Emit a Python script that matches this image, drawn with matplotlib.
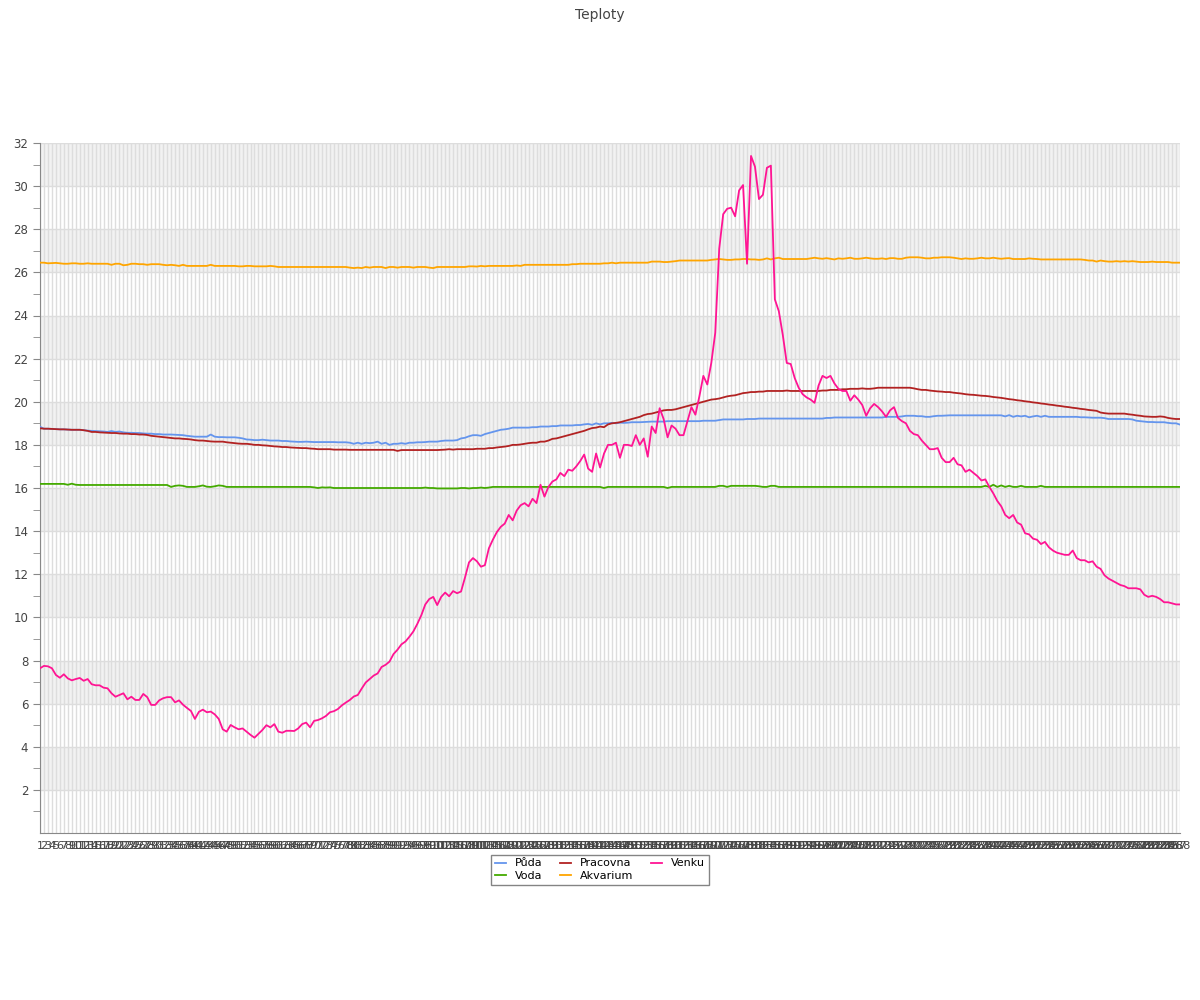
import numpy as np
import matplotlib.pyplot as plt

# Teploty - mereni po 5 minutach (288 bodu)
labels = [str(i) for i in range(1, 289)]

puda = [
    18.84, 18.75, 18.75, 18.74, 18.73, 18.72, 18.72, 18.71, 18.7, 18.7, 18.7, 18.68,
    18.66, 18.65, 18.64, 18.63, 18.62, 18.6, 18.64, 18.6, 18.62, 18.58, 18.56, 18.56,
    18.55, 18.55, 18.53, 18.52, 18.52, 18.5, 18.5, 18.48, 18.48, 18.48, 18.47, 18.46,
    18.45, 18.42, 18.4, 18.38, 18.38, 18.38, 18.38, 18.48, 18.38, 18.36, 18.36, 18.35,
    18.35, 18.35, 18.33, 18.3, 18.25, 18.24, 18.22, 18.22, 18.24, 18.22, 18.2, 18.2,
    18.2, 18.18, 18.18, 18.16, 18.15, 18.14, 18.14, 18.15, 18.14, 18.13, 18.13, 18.13,
    18.13, 18.13, 18.13, 18.12, 18.12, 18.12, 18.1, 18.05, 18.1, 18.05, 18.1, 18.08,
    18.1, 18.15, 18.05, 18.1, 18.0, 18.05, 18.05, 18.08, 18.05, 18.1, 18.1, 18.12,
    18.12, 18.13, 18.15, 18.15, 18.15, 18.18, 18.2, 18.2, 18.2, 18.22, 18.3, 18.33,
    18.4, 18.45, 18.45, 18.42, 18.5, 18.55, 18.6, 18.65, 18.7, 18.72, 18.75, 18.8,
    18.8, 18.8, 18.8, 18.8, 18.82, 18.82, 18.85, 18.85, 18.85, 18.87, 18.87, 18.9,
    18.9, 18.9, 18.9, 18.92, 18.92, 18.95, 18.97, 18.93, 19.0, 18.95, 19.0, 19.0,
    19.02, 19.0, 19.03, 19.02, 19.03, 19.05, 19.05, 19.05, 19.06, 19.07, 19.08, 19.08,
    19.08, 19.08, 19.1, 19.1, 19.1, 19.1, 19.1, 19.1, 19.1, 19.1, 19.1, 19.12,
    19.12, 19.12, 19.12, 19.15, 19.18, 19.18, 19.18, 19.18, 19.18, 19.18, 19.2, 19.2,
    19.2, 19.22, 19.22, 19.22, 19.22, 19.22, 19.22, 19.22, 19.22, 19.22, 19.22, 19.22,
    19.22, 19.22, 19.22, 19.22, 19.22, 19.22, 19.25, 19.25, 19.27, 19.27, 19.27, 19.27,
    19.27, 19.27, 19.27, 19.27, 19.27, 19.27, 19.27, 19.27, 19.27, 19.3, 19.3, 19.3,
    19.3, 19.32, 19.35, 19.35, 19.35, 19.33, 19.33, 19.3, 19.3, 19.33, 19.35, 19.35,
    19.36, 19.37, 19.37, 19.37, 19.37, 19.37, 19.37, 19.37, 19.37, 19.37, 19.37, 19.37,
    19.37, 19.37, 19.37, 19.32, 19.38, 19.3, 19.35, 19.32, 19.35, 19.28, 19.32, 19.35,
    19.3, 19.35, 19.3, 19.3, 19.3, 19.3, 19.3, 19.3, 19.3, 19.3, 19.28, 19.28,
    19.27, 19.26, 19.26, 19.26, 19.24, 19.2, 19.2, 19.2, 19.2, 19.2, 19.2, 19.18,
    19.12, 19.1, 19.08, 19.06, 19.06, 19.05, 19.05, 19.05, 19.02, 19.0, 19.0, 18.94,
]

voda = [
    16.19, 16.19, 16.19, 16.19, 16.19, 16.19, 16.19, 16.15, 16.2, 16.15, 16.14, 16.14,
    16.14, 16.14, 16.14, 16.14, 16.14, 16.14, 16.14, 16.14, 16.14, 16.14, 16.14, 16.14,
    16.14, 16.14, 16.14, 16.14, 16.14, 16.14, 16.14, 16.14, 16.14, 16.05, 16.1, 16.12,
    16.1, 16.05, 16.05, 16.05, 16.08, 16.12, 16.06, 16.05, 16.08, 16.12, 16.1, 16.05,
    16.05, 16.05, 16.05, 16.05, 16.05, 16.05, 16.05, 16.05, 16.05, 16.05, 16.05, 16.05,
    16.05, 16.05, 16.05, 16.05, 16.05, 16.05, 16.05, 16.05, 16.05, 16.03, 16.0, 16.03,
    16.02, 16.03, 16.0, 16.0, 16.0, 16.0, 16.0, 16.0, 16.0, 16.0, 16.0, 16.0,
    16.0, 16.0, 16.0, 16.0, 16.0, 16.0, 16.0, 16.0, 16.0, 16.0, 16.0, 16.0,
    16.0, 16.02, 16.0, 16.0, 15.98, 15.98, 15.98, 15.98, 15.98, 15.98, 16.0, 16.0,
    15.98, 16.0, 16.0, 16.02, 16.0, 16.02, 16.05, 16.05, 16.05, 16.05, 16.05, 16.05,
    16.05, 16.05, 16.05, 16.05, 16.05, 16.05, 16.05, 16.05, 16.05, 16.05, 16.05, 16.05,
    16.05, 16.05, 16.05, 16.05, 16.05, 16.05, 16.05, 16.05, 16.05, 16.05, 16.0, 16.05,
    16.05, 16.05, 16.05, 16.05, 16.05, 16.05, 16.05, 16.05, 16.05, 16.05, 16.05, 16.05,
    16.05, 16.05, 16.0, 16.05, 16.05, 16.05, 16.05, 16.05, 16.05, 16.05, 16.05, 16.05,
    16.05, 16.05, 16.05, 16.1, 16.1, 16.05, 16.1, 16.1, 16.1, 16.1, 16.1, 16.1,
    16.1, 16.08, 16.05, 16.05, 16.1, 16.1, 16.05, 16.05, 16.05, 16.05, 16.05, 16.05,
    16.05, 16.05, 16.05, 16.05, 16.05, 16.05, 16.05, 16.05, 16.05, 16.05, 16.05, 16.05,
    16.05, 16.05, 16.05, 16.05, 16.05, 16.05, 16.05, 16.05, 16.05, 16.05, 16.05, 16.05,
    16.05, 16.05, 16.05, 16.05, 16.05, 16.05, 16.05, 16.05, 16.05, 16.05, 16.05, 16.05,
    16.05, 16.05, 16.05, 16.05, 16.05, 16.05, 16.05, 16.05, 16.05, 16.05, 16.1, 16.05,
    16.15, 16.05, 16.12, 16.05, 16.1, 16.05, 16.05, 16.1, 16.05, 16.05, 16.05, 16.05,
    16.1, 16.05, 16.05, 16.05, 16.05, 16.05, 16.05, 16.05, 16.05, 16.05, 16.05, 16.05,
    16.05, 16.05, 16.05, 16.05, 16.05, 16.05, 16.05, 16.05, 16.05, 16.05, 16.05, 16.05,
    16.05, 16.05, 16.05, 16.05, 16.05, 16.05, 16.05, 16.05, 16.05, 16.05, 16.05, 16.05,
]

pracovna = [
    18.77, 18.75, 18.75, 18.74, 18.73, 18.72, 18.72, 18.71, 18.7, 18.7, 18.7, 18.68,
    18.65, 18.6, 18.6, 18.58, 18.57, 18.56, 18.55, 18.55, 18.53, 18.52, 18.52, 18.5,
    18.5, 18.48, 18.48, 18.46, 18.42, 18.4, 18.38, 18.36, 18.34, 18.32, 18.3, 18.3,
    18.28, 18.27, 18.25, 18.22, 18.2, 18.2, 18.18, 18.16, 18.15, 18.15, 18.15, 18.12,
    18.1, 18.08, 18.06, 18.05, 18.05, 18.03, 18.0, 18.0, 17.98, 17.97, 17.95, 17.93,
    17.92, 17.9, 17.9, 17.88, 17.87, 17.86, 17.85, 17.85, 17.83, 17.82, 17.8, 17.8,
    17.8, 17.8, 17.78, 17.78, 17.78, 17.78, 17.77, 17.77, 17.77, 17.77, 17.77, 17.77,
    17.77, 17.77, 17.77, 17.77, 17.77, 17.77, 17.72, 17.76, 17.76, 17.76, 17.76, 17.76,
    17.76, 17.76, 17.76, 17.76, 17.76, 17.77, 17.78, 17.8, 17.78, 17.8, 17.8, 17.8,
    17.8, 17.8, 17.82, 17.82, 17.82, 17.85, 17.85, 17.88, 17.9, 17.92, 17.95, 18.0,
    18.0, 18.02, 18.05, 18.08, 18.1, 18.1, 18.15, 18.15, 18.2, 18.28, 18.3, 18.35,
    18.4, 18.45, 18.5, 18.55, 18.6, 18.65, 18.72, 18.78, 18.8, 18.85, 18.82, 18.95,
    19.0, 19.02, 19.05, 19.1, 19.15, 19.2, 19.25, 19.3, 19.38, 19.43, 19.45, 19.5,
    19.55, 19.6, 19.62, 19.62, 19.65, 19.7, 19.75, 19.8, 19.85, 19.9, 19.95, 20.0,
    20.05, 20.1, 20.12, 20.15, 20.2, 20.25, 20.28, 20.3, 20.35, 20.4, 20.42, 20.45,
    20.45, 20.47, 20.47, 20.5, 20.5, 20.5, 20.5, 20.5, 20.52, 20.5, 20.5, 20.5,
    20.5, 20.5, 20.5, 20.5, 20.5, 20.52, 20.52, 20.55, 20.55, 20.55, 20.58, 20.58,
    20.6, 20.6, 20.6, 20.62, 20.6, 20.6, 20.62, 20.65, 20.65, 20.65, 20.65, 20.65,
    20.65, 20.65, 20.65, 20.65, 20.62, 20.58, 20.55, 20.55, 20.52, 20.5, 20.48, 20.47,
    20.45, 20.45, 20.42, 20.4, 20.38, 20.35, 20.33, 20.32, 20.3, 20.28, 20.27, 20.25,
    20.22, 20.2, 20.18, 20.15, 20.12, 20.1, 20.07, 20.05, 20.02, 20.0, 19.97, 19.95,
    19.92, 19.9, 19.87, 19.85, 19.82, 19.8, 19.77, 19.75, 19.72, 19.7, 19.67, 19.65,
    19.62, 19.6, 19.58, 19.5, 19.47, 19.45, 19.45, 19.45, 19.45, 19.45, 19.42, 19.4,
    19.37, 19.35, 19.32, 19.31, 19.3, 19.3, 19.32, 19.3, 19.25, 19.22, 19.2, 19.2,
]

akvarium = [
    26.45, 26.45, 26.42, 26.43, 26.44, 26.42, 26.4, 26.4, 26.42, 26.42, 26.4, 26.4,
    26.42, 26.4, 26.4, 26.4, 26.4, 26.4, 26.35, 26.4, 26.4, 26.33, 26.35, 26.4,
    26.4, 26.38, 26.38, 26.35, 26.38, 26.38, 26.38, 26.35, 26.33, 26.35, 26.33, 26.3,
    26.35, 26.3, 26.3, 26.3, 26.3, 26.3, 26.3, 26.35, 26.3, 26.3, 26.3, 26.3,
    26.3, 26.3, 26.28, 26.28, 26.3, 26.3, 26.28, 26.28, 26.28, 26.28, 26.3, 26.28,
    26.25, 26.25, 26.25, 26.25, 26.25, 26.25, 26.25, 26.25, 26.25, 26.25, 26.25, 26.25,
    26.25, 26.25, 26.25, 26.25, 26.25, 26.25, 26.22, 26.2, 26.22, 26.2, 26.25, 26.22,
    26.25, 26.25, 26.25, 26.2, 26.25, 26.25, 26.22, 26.25, 26.25, 26.25, 26.22, 26.25,
    26.25, 26.25, 26.22, 26.2, 26.25, 26.25, 26.25, 26.25, 26.25, 26.25, 26.25, 26.25,
    26.28, 26.28, 26.27, 26.3, 26.28, 26.3, 26.3, 26.3, 26.3, 26.3, 26.3, 26.3,
    26.32, 26.3, 26.35, 26.35, 26.35, 26.35, 26.35, 26.35, 26.35, 26.35, 26.35, 26.35,
    26.35, 26.35, 26.38, 26.38, 26.4, 26.4, 26.4, 26.4, 26.4, 26.4, 26.42, 26.42,
    26.45, 26.42, 26.45, 26.45, 26.45, 26.45, 26.45, 26.45, 26.45, 26.45, 26.5, 26.5,
    26.5, 26.48, 26.48, 26.5, 26.52, 26.55, 26.55, 26.55, 26.55, 26.55, 26.55, 26.55,
    26.55, 26.58, 26.6, 26.62, 26.6, 26.58, 26.58, 26.6, 26.6, 26.62, 26.62, 26.6,
    26.6, 26.58, 26.6, 26.65, 26.6, 26.65, 26.68, 26.62, 26.62, 26.62, 26.62, 26.62,
    26.62, 26.62, 26.65, 26.68, 26.65, 26.63, 26.66, 26.63, 26.6, 26.65, 26.63, 26.65,
    26.68, 26.63, 26.63, 26.65, 26.68, 26.65, 26.63, 26.63, 26.65, 26.62, 26.66, 26.66,
    26.63, 26.63, 26.68, 26.7, 26.7, 26.7, 26.68, 26.65, 26.65, 26.68, 26.68, 26.7,
    26.7, 26.7, 26.68, 26.65, 26.62, 26.65, 26.63, 26.63, 26.65, 26.68, 26.65, 26.65,
    26.68, 26.65, 26.63, 26.65, 26.66, 26.62, 26.62, 26.62, 26.62, 26.65, 26.63, 26.62,
    26.6, 26.6, 26.6, 26.6, 26.6, 26.6, 26.6, 26.6, 26.6, 26.6, 26.6, 26.58,
    26.55, 26.55, 26.5, 26.55, 26.52, 26.5, 26.5, 26.52, 26.5, 26.52, 26.5, 26.52,
    26.5, 26.48, 26.48, 26.48, 26.5, 26.48, 26.48, 26.48, 26.48, 26.45, 26.45, 26.45,
]

venku = [
    7.64, 7.75, 7.73, 7.64, 7.33, 7.2, 7.36, 7.17, 7.08, 7.14, 7.19, 7.06,
    7.14, 6.9, 6.85, 6.85, 6.74, 6.71, 6.48, 6.32, 6.4, 6.48, 6.2, 6.32,
    6.17, 6.17, 6.45, 6.3, 5.94, 5.94, 6.15, 6.25, 6.3, 6.3, 6.06, 6.15,
    5.95, 5.8, 5.66, 5.29, 5.62, 5.72, 5.6, 5.63, 5.5, 5.29, 4.81, 4.7,
    5.01, 4.9, 4.81, 4.85, 4.7, 4.55, 4.42, 4.6, 4.78, 5.0, 4.9, 5.05,
    4.7, 4.65, 4.74, 4.74, 4.73, 4.85, 5.05, 5.12, 4.9, 5.2, 5.24, 5.32,
    5.43, 5.6, 5.65, 5.75, 5.92, 6.05, 6.17, 6.33, 6.4, 6.7, 6.98, 7.14,
    7.3, 7.4, 7.7, 7.8, 7.95, 8.3, 8.5, 8.75, 8.88, 9.1, 9.35, 9.7,
    10.1, 10.6, 10.85, 10.95, 10.57, 10.95, 11.15, 10.98, 11.22, 11.12, 11.2, 11.85,
    12.55, 12.75, 12.6, 12.35, 12.42, 13.2, 13.6, 13.95, 14.2, 14.35, 14.75, 14.5,
    14.95, 15.2, 15.3, 15.15, 15.5, 15.3, 16.15, 15.6, 16.05, 16.3, 16.4, 16.7,
    16.55, 16.85, 16.8, 17.0, 17.25, 17.55, 16.9, 16.75, 17.6, 16.95, 17.6, 18.0,
    18.0, 18.1, 17.4, 18.0, 18.0, 17.95, 18.45, 18.0, 18.3, 17.45, 18.85, 18.55,
    19.7, 19.2, 18.35, 18.9, 18.75, 18.45, 18.45, 19.1, 19.75, 19.4, 20.25, 21.2,
    20.8, 21.8, 23.2, 27.1, 28.7, 28.95, 29.0, 28.6, 29.8, 30.05, 26.4, 31.4,
    30.9, 29.4, 29.6, 30.85, 30.95, 24.75, 24.2, 23.1, 21.8, 21.75, 21.1, 20.65,
    20.35, 20.2, 20.1, 19.95, 20.75, 21.2, 21.1, 21.2, 20.85, 20.6, 20.5, 20.5,
    20.05, 20.3, 20.1, 19.85, 19.35, 19.7, 19.9, 19.75, 19.55, 19.3, 19.6, 19.75,
    19.25, 19.1, 19.0, 18.65, 18.5, 18.45, 18.2, 18.0, 17.8, 17.8, 17.85, 17.4,
    17.2, 17.2, 17.4, 17.1, 17.05, 16.75, 16.85, 16.7, 16.55, 16.35, 16.4, 16.05,
    15.75, 15.4, 15.15, 14.75, 14.6, 14.75, 14.4, 14.3, 13.9, 13.85, 13.65, 13.6,
    13.4, 13.5, 13.25, 13.1, 13.0, 12.95, 12.9, 12.9, 13.1, 12.75, 12.65, 12.65,
    12.55, 12.6, 12.35, 12.25, 11.95, 11.8, 11.7, 11.6, 11.5, 11.45, 11.35, 11.35,
    11.35, 11.3, 11.05, 10.95, 11.0, 10.95, 10.85, 10.7, 10.7, 10.65, 10.6, 10.6,
]

serie = [
    ("Půda", puda, "#6495ED"),
    ("Voda", voda, "#44AA00"),
    ("Pracovna", pracovna, "#B22222"),
    ("Akvarium", akvarium, "#FFA500"),
    ("Venku", venku, "#FF1493"),
]

fig = plt.figure(figsize=(12, 10), dpi=100)
ax = fig.add_axes([40 / 1200, 0.167, 1140 / 1200, 0.69])

x = np.arange(len(labels))

# pruhy na pozadi
for y0 in range(2, 32, 4):
    ax.axhspan(y0, y0 + 2, color="#F2F2F2", zorder=0, lw=0)

for xi in x:
    ax.axvline(xi, color="#DDDDDD", lw=1, zorder=1)
for yv in range(2, 33, 2):
    ax.axhline(yv, color="#DDDDDD", lw=1, zorder=1)

for name, vals, col in serie:
    ax.plot(x, vals, color=col, lw=1.3, label=name, zorder=3)

ax.set_xlim(0, len(labels) - 1)
ax.set_ylim(0, 32)
ax.set_xticks(x)
ax.set_xticklabels(labels, fontsize=8, color="#444444")
ax.tick_params(axis="x", length=0, pad=6)
ax.set_yticks(range(2, 33, 2))
ax.set_yticks(range(1, 33, 2), minor=True)
ax.tick_params(axis="y", which="both", length=5, color="#888888", labelsize=8.5, labelcolor="#444444")

for s in ["top", "right"]:
    ax.spines[s].set_visible(False)
for s in ["left", "bottom"]:
    ax.spines[s].set_color("#888888")

fig.suptitle("Teploty", y=0.992, fontsize=10, color="#444444")

leg = fig.legend(loc="upper center", bbox_to_anchor=(0.5, 0.151), ncol=3,
                 fontsize=8, frameon=True, fancybox=False, handlelength=1.0,
                 handletextpad=0.8, columnspacing=1.6, borderpad=0.35,
                 labelspacing=0.25)
leg.get_frame().set_edgecolor("#666666")
leg.get_frame().set_linewidth(1)

fig.savefig("out.png", dpi=100)
